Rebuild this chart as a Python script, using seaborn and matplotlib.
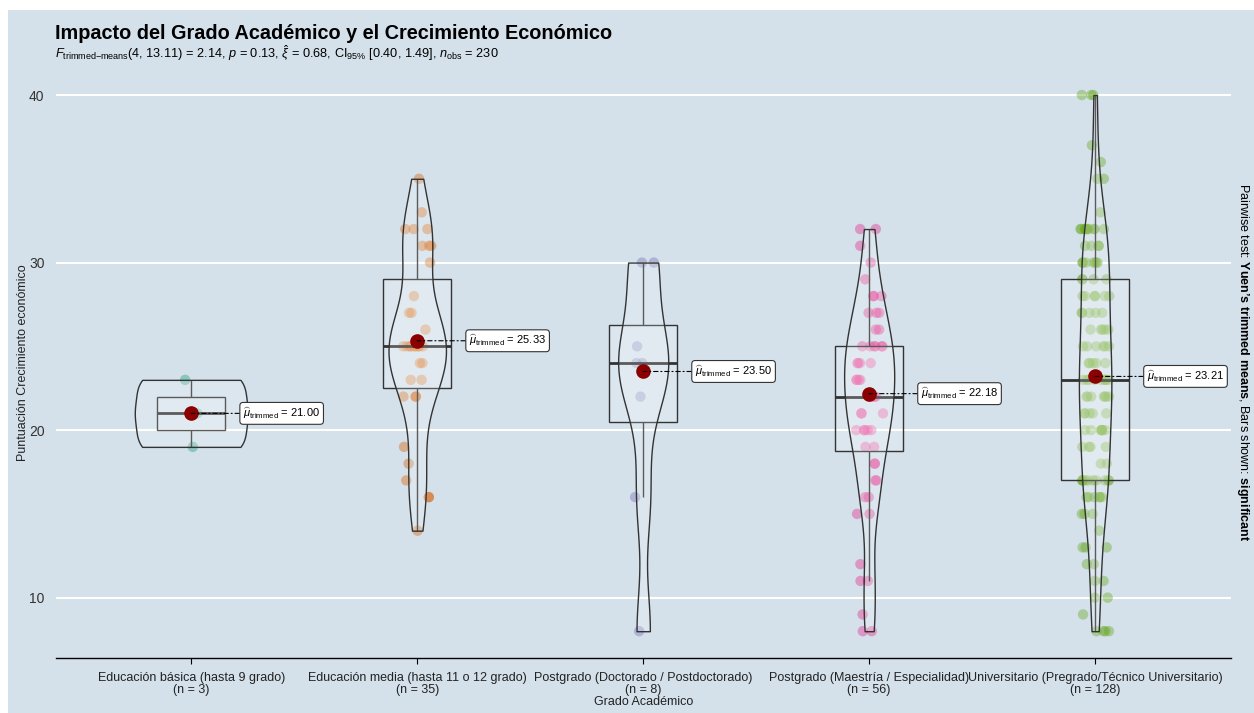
import numpy as np
import pandas as pd
import matplotlib
matplotlib.use("Agg")
import matplotlib.pyplot as plt
import seaborn as sns
from matplotlib.patches import Rectangle

# ---------------- data ----------------
categories = [
    "Educación básica (hasta 9 grado)",
    "Educación media (hasta 11 o 12 grado)",
    "Postgrado (Doctorado / Postdoctorado)",
    "Postgrado (Maestría / Especialidad)",
    "Universitario (Pregrado/Técnico Universitario)",
]
g1_values = [19, 21, 23]
g2_values = [14, 16, 16, 17, 18, 19, 22, 22, 22, 23, 23, 24, 24,
             25, 25, 25, 25, 25, 25, 25, 25, 25,
             26, 27, 27, 28, 30, 31, 31, 31, 32, 32, 32, 33, 35]
g3_values = [8, 16, 22, 24, 24, 25, 30, 30]
g4_values = [8, 8, 9, 11, 11, 12, 15, 15, 16, 16, 17, 17, 18, 18, 19, 19,
             20, 20, 20, 20, 20, 21, 21, 21, 22, 22, 22, 22, 22,
             23, 23, 23, 23, 24, 24, 24, 24, 25, 25, 25, 25, 25,
             25, 26, 26, 27, 27, 27, 28, 28, 28, 29, 30, 31, 32, 32]
g5_levels = [8, 9, 10, 11, 12, 13, 14, 15, 16, 17, 18, 19, 20, 21, 22, 23, 24,
             25, 26, 27, 28, 29, 30, 31, 32, 33, 35, 36, 37, 40]
g5_counts = [4, 1, 2, 2, 2, 3, 1, 3, 6, 10, 2, 4, 7, 5, 7, 9, 5,
             6, 5, 5, 6, 4, 7, 4, 10, 1, 2, 1, 1, 3]
palette = ["#1B9E77", "#D95F02", "#7570B3", "#E7298A", "#66A61E"]
y_ticks = [10, 20, 30, 40]

title = "Impacto del Grado Académico y el Crecimiento Económico"
subtitle = (r"$F_{\mathrm{trimmed{-}means}}$(4, 13.11) = 2.14, $p$ = 0.13, "
            r"$\hat{\xi}$ = 0.68, CI$_{95\%}$ [0.40, 1.49], $n_{\mathrm{obs}}$ = 230")
x_label = "Grado Académico"
y_label = "Puntuación Crecimiento económico"
caption_right = (r"Pairwise test: $\mathbf{Yuen’s\ trimmed\ means}$, "
                 r"Bars shown: $\mathbf{significant}$")

g5_values = list(np.repeat(g5_levels, g5_counts))
groups = [g1_values, g2_values, g3_values, g4_values, g5_values]
df = pd.DataFrame({
    "grupo": np.concatenate([[c] * len(v) for c, v in zip(categories, groups)]),
    "valor": np.concatenate(groups).astype(float),
})

def trimmed_mean(x, p=0.2):
    x = np.sort(np.asarray(x, float))
    k = int(np.floor(p * len(x)))
    return x[k:len(x) - k].mean()

def nrd0_factor(kde):
    x = np.asarray(kde.dataset).ravel()
    sd = x.std(ddof=1)
    q75, q25 = np.percentile(x, [75, 25])
    lo = min(sd, (q75 - q25) / 1.34)
    bw = 0.9 * lo * len(x) ** -0.2
    return bw / sd

# ---------------- style ----------------
bg = "#d4e1ea"
sns.set_theme(style="white")
plt.rcParams["font.family"] = ["Liberation Sans", "DejaVu Sans"]
plt.rcParams["mathtext.fontset"] = "custom"
plt.rcParams["mathtext.rm"] = "Liberation Sans"
plt.rcParams["mathtext.it"] = "Liberation Sans:italic"
plt.rcParams["mathtext.bf"] = "Liberation Sans:bold"
plt.rcParams["mathtext.sf"] = "Liberation Sans"

W, H = 1254, 713
fig = plt.figure(figsize=(W / 100, H / 100), dpi=100, facecolor="white")
fig.patches.append(Rectangle((8 / W, 0), 1, 1 - 10 / H, transform=fig.transFigure,
                             facecolor=bg, edgecolor="none", zorder=-10))

ax_l, ax_r, ax_b, ax_t = 55.7, 1230.7, 658, 68.2
ax = fig.add_axes([ax_l / W, 1 - ax_b / H, (ax_r - ax_l) / W, (ax_b - ax_t) / H])
ax.set_facecolor(bg)

np.random.seed(3)
sns.stripplot(data=df, x="grupo", y="valor", hue="grupo", order=categories,
              hue_order=categories, palette=palette, jitter=0.065, size=7.5,
              alpha=0.4, linewidth=0, legend=False, ax=ax, zorder=2)

sns.boxplot(data=df, x="grupo", y="valor", order=categories, width=0.3,
            showcaps=False, showfliers=False, color="white", linecolor="#333333",
            linewidth=1.0, ax=ax,
            boxprops=dict(facecolor=(1, 1, 1, 0.2), edgecolor="#333333", zorder=3),
            medianprops=dict(color="#333333", linewidth=2.0, zorder=3),
            whiskerprops=dict(color="#333333", linewidth=1.0, zorder=3))
for p in ax.patches:
    p.set_facecolor((1, 1, 1, 0.2))

n_before = len(ax.collections)
sns.violinplot(data=df, x="grupo", y="valor", order=categories, width=0.5,
               cut=0, inner=None, density_norm="area", bw_method=nrd0_factor,
               color="white", linecolor="#333333", linewidth=1.0, ax=ax)
for c in ax.collections[n_before:]:
    c.set_facecolor((1, 1, 1, 0.2))
    c.set_zorder(3)

tmeans = [trimmed_mean(v) for v in groups]
ax.plot(range(len(categories)), tmeans, linestyle="none", marker="o",
        markersize=9.5, color="darkred", zorder=6)
for i, m in enumerate(tmeans):
    ax.annotate(r"$\widehat{\mu}_{\mathrm{trimmed}}$" + f" = {m:.2f}", xy=(i, m),
                xytext=(i + 0.4, m), ha="center", va="center", fontsize=8,
                color="black", zorder=7,
                bbox=dict(boxstyle="round,pad=0.3,rounding_size=0.3", fc="white",
                          ec="#333333", lw=0.8),
                arrowprops=dict(arrowstyle="-", color="black", lw=0.8,
                                linestyle=(0, (4, 2.5, 1, 2.5)), shrinkA=0, shrinkB=0))

ax.set_xlim(-0.6, len(categories) - 0.4)
ax.set_ylim(6.4, 41.6)
ax.set_yticks(y_ticks)
ax.set_yticklabels([str(t) for t in y_ticks])
ax.grid(axis="y", color="white", linewidth=1.5)
ax.grid(axis="x", visible=False)
ax.set_axisbelow(True)
for s in ["top", "right", "left"]:
    ax.spines[s].set_visible(False)
ax.spines["bottom"].set_color("black")
ax.spines["bottom"].set_linewidth(1.0)

ns = [len(v) for v in groups]
ax.set_xticks(range(len(categories)))
ax.set_xticklabels([f"{c}\n(n = {n})" for c, n in zip(categories, ns)],
                   fontsize=9, color="#222222", linespacing=1.0)
ax.tick_params(axis="x", length=4, width=0.8, color="black", pad=6, direction="out",
               bottom=True)
ax.tick_params(axis="y", length=0, pad=8, labelsize=10, labelcolor="#333333")

ax.set_xlabel(x_label, fontsize=9, color="#222222")
ax.xaxis.set_label_coords(0.5, (ax_b - 696) / (ax_b - ax_t))
ax.set_ylabel(y_label, fontsize=9, color="#222222")
ax.yaxis.set_label_coords((29 - ax_l) / (ax_r - ax_l), 0.5)

fig.text(55 / W, 1 - 39 / H, title, fontsize=14.3, fontweight="bold", ha="left",
         va="baseline", color="black")
fig.text(55 / W, 1 - 58 / H, subtitle, fontsize=9.2, ha="left", va="baseline",
         color="black")
fig.text(1243 / W, 1 - 362 / H, caption_right, fontsize=9, rotation=-90,
         ha="center", va="center", color="black")

fig.savefig("out.png", dpi=100, facecolor="white")
